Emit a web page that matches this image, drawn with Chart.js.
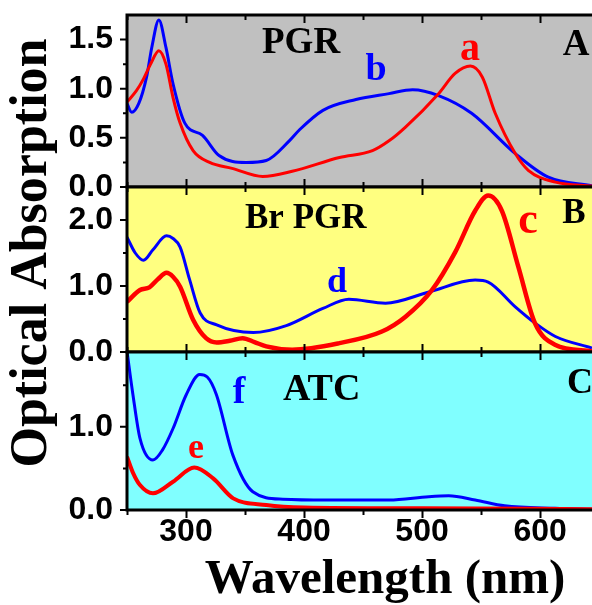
<!DOCTYPE html>
<html>
<head>
<meta charset="utf-8">
<script src="https://cdn.jsdelivr.net/npm/chart.js@4.4.1/dist/chart.umd.min.js"></script>
<style>
    html, body { margin: 0; padding: 0; background: #fff; }
    #wrap { position: relative; width: 592px; height: 605px; overflow: hidden; }
    canvas { position: absolute; left: 0; top: 0; }
    #panelA { top: -50px; }
</style>
</head>
<body>
<div id="wrap">
    <canvas id="panelA" width="592" height="655"></canvas>
    <canvas id="panelB" width="592" height="605"></canvas>
    <canvas id="panelC" width="592" height="605"></canvas>
</div>
<script>
// Curve a: PGR (red)
const aWave = [250, 258, 264, 270, 277, 283, 289, 295, 306, 320, 339, 365, 390, 430, 458, 472, 486, 514, 528, 541, 551, 562, 579, 590, 613, 644];
const aAbs  = [0.865, 0.98, 1.10, 1.25, 1.386, 1.25, 0.91, 0.65, 0.37, 0.25, 0.19, 0.107, 0.16, 0.30, 0.37, 0.47, 0.61, 0.95, 1.155, 1.23, 1.12, 0.75, 0.34, 0.17, 0.05, 0.01];
// Curve b: PGR (blue)
const bWave = [250, 254, 260, 266.6, 271, 277, 283, 289, 299, 314, 328, 351, 368, 387.5, 396, 416, 444, 472, 492, 514, 542, 579, 607, 644];
const bAbs  = [0.85, 0.76, 0.85, 1.12, 1.42, 1.70, 1.42, 1.05, 0.65, 0.525, 0.32, 0.25, 0.27, 0.47, 0.58, 0.78, 0.89, 0.95, 0.99, 0.93, 0.75, 0.34, 0.10, 0.012];
// Curve c: Br PGR (red)
const cWave = [250, 261, 269, 276, 283.5, 289, 295, 306, 317, 326, 337, 348, 358, 368, 390, 430, 466, 486, 508.5, 528, 545, 556, 567.6, 581.6, 595.7, 612.6, 644];
const cAbs  = [0.76, 0.94, 0.98, 1.10, 1.20, 1.14, 0.99, 0.49, 0.21, 0.145, 0.17, 0.21, 0.15, 0.085, 0.035, 0.135, 0.31, 0.535, 0.94, 1.51, 2.14, 2.37, 2.14, 1.29, 0.435, 0.11, 0.01];
// Curve d: Br PGR (blue)
const dWave = [250, 257, 264, 272, 283.5, 289, 295, 303, 312, 326, 357, 385, 416, 438, 469, 506, 545, 556, 579, 596, 613, 644];
const dAbs  = [1.74, 1.50, 1.39, 1.55, 1.76, 1.72, 1.59, 1.10, 0.59, 0.41, 0.295, 0.40, 0.66, 0.80, 0.74, 0.91, 1.09, 1.06, 0.685, 0.435, 0.235, 0.06];
// Curve e: ATC (red)
const eWave = [250, 255, 261, 272, 289, 307, 323, 340, 368, 400, 500, 644];
const eAbs  = [0.64, 0.45, 0.30, 0.20, 0.34, 0.51, 0.38, 0.14, 0.06, 0.03, 0.02, 0.01];
// Curve f: ATC (blue)
const fWave = [250, 255, 261, 272, 280, 289, 300, 311.6, 318, 325.7, 339.7, 356.6, 382, 420, 472, 505.7, 522.6, 545, 570, 612.6, 644];
const fAbs  = [1.91, 1.39, 0.86, 0.60, 0.72, 0.98, 1.38, 1.63, 1.60, 1.39, 0.66, 0.22, 0.13, 0.12, 0.12, 0.16, 0.17, 0.12, 0.05, 0.02, 0.01];

const xMin = 250, xMax = 644;
const xTickLabels = [300, 400, 500, 600];
const xTickMarks = [250, 300, 350, 400, 450, 500, 550, 600, 650];

const yTicksA = [0, 0.5, 1.0, 1.5];
const yMinorA = [0.25, 0.75, 1.25];
const yTicksB = [0, 1.0, 2.0];
const yMinorB = [0.5, 1.5];
const yTicksC = [0, 1.0];
const yMinorC = [0.5, 1.5];

const serif = (px) => `bold ${px}px "Liberation Serif", "Times New Roman", serif`;

function pts(xs, ys) {
    return xs.map((x, i) => ({ x: x, y: ys[i] }));
}

// background, frame, ticks and labels for one panel
const panelPlugin = {
    id: 'panel',
    beforeDraw(chart, args, opts) {
        const a = chart.chartArea;
        const ctx = chart.ctx;
        ctx.save();
        ctx.fillStyle = opts.bg;
        ctx.fillRect(a.left, a.top, a.right - a.left, a.bottom - a.top);
        ctx.restore();
    },
    afterDatasetsDraw(chart, args, opts) {
        const a = chart.chartArea;
        const ctx = chart.ctx;
        const xs = chart.scales.x, ys = chart.scales.y;
        ctx.save();
        ctx.strokeStyle = '#000';
        ctx.lineWidth = 2;
        ctx.beginPath();
        xTickMarks.forEach(v => {
            if (v > xMax) return;
            const px = Math.round(xs.getPixelForValue(v)) + 0.5;
            const len = v % 100 === 0 ? 8 : 5;
            ctx.moveTo(px, a.top); ctx.lineTo(px, a.top + len);
            if (opts.outBottom) {
                ctx.moveTo(px, a.bottom); ctx.lineTo(px, a.bottom + len);
            } else {
                ctx.moveTo(px, a.bottom); ctx.lineTo(px, a.bottom - len);
            }
        });
        opts.major.forEach(v => {
            const py = ys.getPixelForValue(v);
            ctx.moveTo(a.left, py); ctx.lineTo(a.left - 7, py);
        });
        opts.minor.forEach(v => {
            const py = ys.getPixelForValue(v);
            ctx.moveTo(a.left, py); ctx.lineTo(a.left - 4, py);
        });
        ctx.stroke();
        ctx.lineWidth = 3;
        ctx.beginPath();
        ctx.moveTo(a.left, a.top); ctx.lineTo(a.right, a.top);
        ctx.moveTo(a.left, a.bottom); ctx.lineTo(a.right, a.bottom);
        ctx.moveTo(a.left, a.top - 1.5); ctx.lineTo(a.left, a.bottom + 1.5);
        ctx.stroke();
        ctx.restore();
    },
    afterDraw(chart, args, opts) {
        const ctx = chart.ctx;
        const dy = opts.shift || 0;
        ctx.save();
        ctx.textBaseline = 'alphabetic';
        opts.texts.forEach(t => {
            ctx.font = serif(t.size);
            ctx.fillStyle = t.color;
            ctx.textAlign = t.align || 'left';
            ctx.fillText(t.text, t.x, t.y + dy);
        });
        if (opts.axisTitles) {
            ctx.fillStyle = '#000';
            ctx.font = serif(49);
            ctx.textAlign = 'center';
            ctx.fillText('Wavelength (nm)', 385, 593);
            ctx.translate(46, 253);
            ctx.rotate(-Math.PI / 2);
            ctx.font = serif(52);
            ctx.fillText('Optical Absorption', 0, 0);
        }
        ctx.restore();
    }
};

function makePanel(id, cfg) {
    return new Chart(document.getElementById(id), {
        type: 'line',
        data: {
            datasets: cfg.series.map(s => ({
                data: pts(s.x, s.y),
                borderColor: s.color,
                borderWidth: s.width,
                pointRadius: 0,
                fill: false,
                cubicInterpolationMode: 'monotone'
            }))
        },
        options: {
            responsive: false,
            animation: false,
            events: [],
            layout: { padding: { top: cfg.top, bottom: cfg.bottom, left: 0, right: 0 } },
            plugins: {
                legend: { display: false },
                tooltip: { enabled: false },
                panel: cfg.panel
            },
            scales: {
                x: {
                    type: 'linear',
                    min: xMin,
                    max: xMax,
                    display: cfg.showX,
                    grid: { display: false, drawTicks: false },
                    border: { display: false },
                    afterBuildTicks: s => { s.ticks = xTickLabels.map(v => ({ value: v })); },
                    afterFit: s => { if (cfg.showX) s.height = 95; },
                    ticks: {
                        color: '#000',
                        padding: 3,
                        maxRotation: 0,
                        font: { family: '"Liberation Sans", Arial, sans-serif', size: 32, weight: 'bold' },
                        callback: v => String(v)
                    }
                },
                y: {
                    type: 'linear',
                    min: 0,
                    max: cfg.yMax,
                    grid: { display: false, drawTicks: false },
                    border: { display: false },
                    afterBuildTicks: s => { s.ticks = cfg.yTicks.map(v => ({ value: v })); },
                    afterFit: s => { s.width = 127; },
                    ticks: {
                        color: '#000',
                        padding: 14,
                        font: { family: '"Liberation Sans", Arial, sans-serif', size: 32, weight: 'bold' },
                        callback: v => Number(v).toFixed(1)
                    }
                }
            }
        },
        plugins: [panelPlugin]
    });
}

// panel A canvas sits 50px above the page so its top padding clears the label padding
makePanel('panelA', {
    top: 65, bottom: 418, showX: false, yMax: 1.75, yTicks: yTicksA,
    series: [
        { x: aWave, y: aAbs, color: '#ff0000', width: 3 },
        { x: bWave, y: bAbs, color: '#0000ff', width: 3 }
    ],
    panel: {
        bg: '#c0c0c0', major: yTicksA, minor: yMinorA, shift: 50,
        texts: [
            { text: 'PGR', x: 262, y: 53, size: 37, color: '#000' },
            { text: 'A', x: 576, y: 55, size: 37, color: '#000', align: 'center' },
            { text: 'b', x: 376, y: 80, size: 38, color: '#0000ff', align: 'center' },
            { text: 'a', x: 470, y: 60, size: 40, color: '#ff0000', align: 'center' }
        ]
    }
});

makePanel('panelB', {
    top: 187, bottom: 253, showX: false, yMax: 2.5, yTicks: yTicksB,
    series: [
        { x: cWave, y: cAbs, color: '#ff0000', width: 4.5 },
        { x: dWave, y: dAbs, color: '#0000ff', width: 3 }
    ],
    panel: {
        bg: '#ffff80', major: yTicksB, minor: yMinorB,
        texts: [
            { text: 'Br PGR', x: 245, y: 228, size: 35, color: '#000' },
            { text: 'B', x: 574, y: 223, size: 35, color: '#000', align: 'center' },
            { text: 'c', x: 528, y: 233, size: 44, color: '#ff0000', align: 'center' },
            { text: 'd', x: 337, y: 292, size: 36, color: '#0000ff', align: 'center' }
        ]
    }
});

makePanel('panelC', {
    top: 352, bottom: 0, showX: true, yMax: 1.9, yTicks: yTicksC,
    series: [
        { x: eWave, y: eAbs, color: '#ff0000', width: 4 },
        { x: fWave, y: fAbs, color: '#0000ff', width: 3 }
    ],
    panel: {
        bg: '#80ffff', major: yTicksC, minor: yMinorC, outBottom: true, axisTitles: true,
        texts: [
            { text: 'ATC', x: 283, y: 400, size: 38, color: '#000' },
            { text: 'C', x: 567, y: 393, size: 36, color: '#000' },
            { text: 'f', x: 239, y: 403, size: 38, color: '#0000ff', align: 'center' },
            { text: 'e', x: 196, y: 458, size: 36, color: '#ff0000', align: 'center' }
        ]
    }
});
</script>
</body>
</html>
